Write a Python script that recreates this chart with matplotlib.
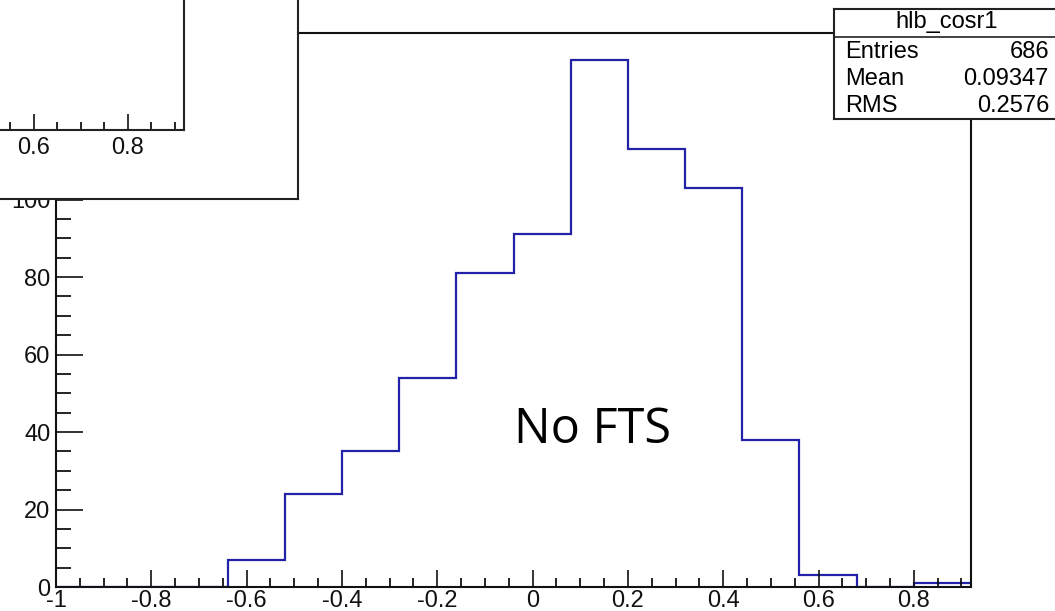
import matplotlib
matplotlib.use("Agg")
import matplotlib.pyplot as plt
from matplotlib.ticker import MultipleLocator

# ---------------- data ----------------
bin_edges = [-1.0, -0.88, -0.76, -0.64, -0.52, -0.40, -0.28, -0.16, -0.04,
             0.08, 0.20, 0.32, 0.44, 0.56, 0.68, 0.80, 0.92]
counts = [0, 0, 0, 7, 24, 35, 54, 81, 91, 136, 113, 103, 38, 3, 0, 1]

x_ticks = [-1.0, -0.8, -0.6, -0.4, -0.2, 0.0, 0.2, 0.4, 0.6, 0.8]
x_labels = ["-1", "-0.8", "-0.6", "-0.4", "-0.2", "0", "0.2", "0.4", "0.6", "0.8"]
y_ticks = [0, 20, 40, 60, 80, 100, 120, 140]
y_labels = ["0", "20", "40", "60", "80", "100", "120", "140"]

stats_title = "hlb_cosr1"
stats_names = ["Entries", "Mean", "RMS"]
stats_values = ["686", "0.09347", "0.2576"]
annotation = "No FTS"

# ---------------- layout ----------------
plt.rcParams['font.family'] = ['Liberation Sans', 'DejaVu Sans']
W, H = 1055, 611
fig = plt.figure(figsize=(W / 100, H / 100), dpi=100)
fig.patch.set_facecolor("white")


def rect(l, t, r, b):
    return [l / W, 1 - b / H, (r - l) / W, (b - t) / H]


def fx(x):
    return x / W


def fy(y):
    return 1 - y / H


LBL = 17
HIST_COLOR = "#2222a8"
SPINE_LW = 1.5

# main axes
ax = fig.add_axes(rect(56, 33, 971, 587))
ax.set_zorder(1)
ax.stairs(counts, bin_edges, color=HIST_COLOR, lw=1.6, baseline=0)
ax.set_xlim(-1, 0.92)
ax.set_ylim(0, 143)
ax.set_xticks(x_ticks, labels=x_labels)
ax.set_yticks(y_ticks, labels=y_labels)
ax.xaxis.set_minor_locator(MultipleLocator(0.05))
ax.yaxis.set_minor_locator(MultipleLocator(5))
ax.tick_params(axis='x', which='major', direction='in', length=12.5, width=1.2,
               labelsize=LBL, pad=2.5, top=False, colors='#111111')
ax.tick_params(axis='x', which='minor', direction='in', length=6.5, width=1.2, top=False)
ax.tick_params(axis='y', which='major', direction='in', length=19.5, width=1.2,
               labelsize=LBL, pad=4, right=False, colors='#111111')
ax.tick_params(axis='y', which='minor', direction='in', length=11, width=1.2, right=False)
for s in ax.spines.values():
    s.set_linewidth(SPINE_LW)
    s.set_color('#111111')

fig.text(fx(514), fy(443), annotation, fontsize=35, family=['Open Sans', 'DejaVu Sans'],
         ha='left', va='baseline', color='black', zorder=3)

# inset pad (upper left, partially off-canvas)
pad = fig.add_axes(rect(-30, -30, 298, 199))
pad.set_zorder(5)
pad.set_facecolor('white')
pad.set_xticks([])
pad.set_yticks([])
for s in pad.spines.values():
    s.set_linewidth(SPINE_LW)
    s.set_color('#222222')

inn = fig.add_axes(rect(-719, -400, 184, 130))
inn.set_zorder(6)
inn.patch.set_alpha(0)
inn.set_xlim(-1, 0.92)
inn.set_ylim(0, 1)
inn.set_xticks(x_ticks, labels=x_labels)
inn.set_yticks([])
inn.xaxis.set_minor_locator(MultipleLocator(0.05))
inn.tick_params(axis='x', which='major', direction='in', length=11.5, width=1.2,
                labelsize=LBL, pad=5, colors='#111111')
inn.tick_params(axis='x', which='minor', direction='in', length=6, width=1.2)
inn.spines['top'].set_visible(False)
inn.spines['left'].set_visible(False)
for k in ('bottom', 'right'):
    inn.spines[k].set_linewidth(SPINE_LW)
    inn.spines[k].set_color('#222222')

# stats box
st = fig.add_axes(rect(834, 9, 1068, 119))
st.set_zorder(7)
st.set_facecolor('white')
st.set_xticks([])
st.set_yticks([])
for s in st.spines.values():
    s.set_linewidth(SPINE_LW)
    s.set_color('#222222')
st.axhline((119 - 37) / 110, color='#222222', lw=1.2)

fig.text(fx(947), fy(22), stats_title, fontsize=LBL, ha='center', va='center',
         color='black', zorder=10)
row_y = [52, 79, 106]
for name, val, yy in zip(stats_names, stats_values, row_y):
    fig.text(fx(845), fy(yy), name, fontsize=LBL, ha='left', va='center',
             color='black', zorder=10)
    fig.text(fx(1049), fy(yy), val, fontsize=LBL, ha='right', va='center',
             color='black', zorder=10)

fig.savefig("out.png", dpi=100, facecolor='white')
